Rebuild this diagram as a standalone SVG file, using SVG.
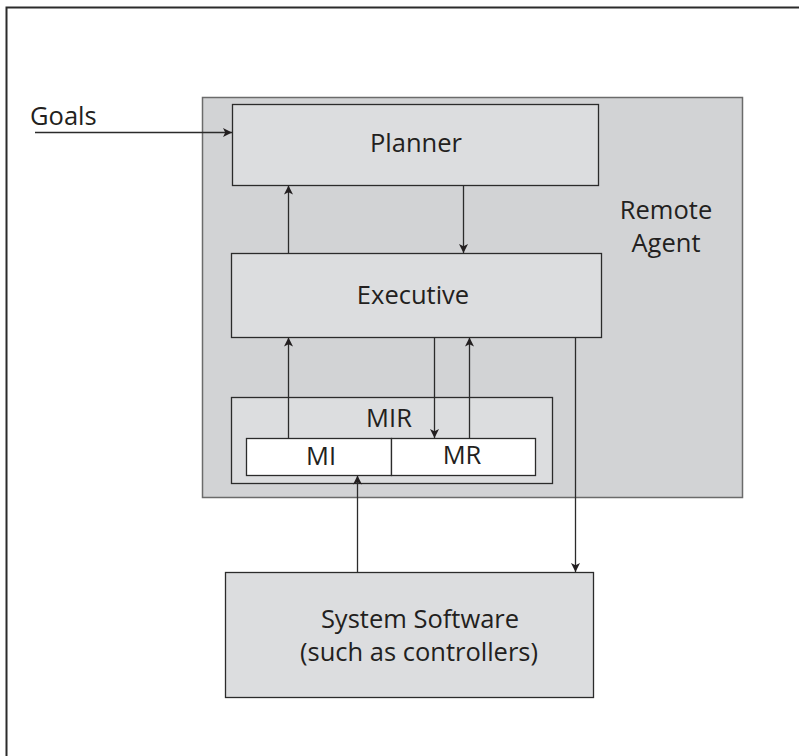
<svg xmlns="http://www.w3.org/2000/svg" width="799" height="756" viewBox="0 0 799 756">
  <style>
    text { font-family: "Open Sans", "Noto Sans", sans-serif; fill: #231f20; text-anchor: middle; }
    .big { font-size: 25.5px; }
    .box { fill: #dcdddf; stroke: #2b2b2b; stroke-width: 1.3; }
    .cell { fill: #ffffff; stroke: #2b2b2b; stroke-width: 1.3; }
    .wire { fill: none; stroke: #2b2b2b; stroke-width: 1.3; }
  </style>
  <defs>
    <marker id="arrow" viewBox="0 0 10 10" refX="10" refY="5" markerWidth="9" markerHeight="9" markerUnits="userSpaceOnUse" orient="auto">
      <path d="M0,0 L10,5 L0,10 L2.5,5 Z" fill="#231f20"/>
    </marker>
  </defs>

  <rect width="799" height="756" fill="#ffffff"/>
  <!-- page frame (left and top edges) -->
  <path d="M6.5,756 V7.5 H799" fill="none" stroke="#2b2b2b" stroke-width="2"/>

  <g id="remote-agent">
    <rect x="202.5" y="97.5" width="540" height="400" fill="#d2d3d5" stroke="#6b6b6b" stroke-width="1.5"/>
    <text class="big" x="666" y="219">Remote</text>
    <text class="big" x="666" y="252">Agent</text>
  </g>

  <g id="planner">
    <rect class="box" x="232.5" y="104.5" width="366" height="81"/>
    <text class="big" x="416" y="152">Planner</text>
  </g>

  <g id="executive">
    <rect class="box" x="231.5" y="253.5" width="370" height="84"/>
    <text class="big" x="413" y="304">Executive</text>
  </g>

  <g id="mir">
    <rect class="box" x="231.5" y="397.5" width="321" height="86"/>
    <text class="big" x="389" y="427">MIR</text>
  </g>

  <g id="mi">
    <rect class="cell" x="246.5" y="438.5" width="145" height="37"/>
    <text class="big" x="321" y="465">MI</text>
  </g>

  <g id="mr">
    <rect class="cell" x="391.5" y="438.5" width="144" height="37"/>
    <text class="big" x="462" y="464">MR</text>
  </g>

  <g id="system-software">
    <rect class="box" x="225.5" y="572.5" width="368" height="125"/>
    <text class="big" x="420" y="628">System Software</text>
    <text class="big" x="419" y="661">(such as controllers)</text>
  </g>

  <g id="goals-label">
    <text class="big" x="30" y="125" style="text-anchor:start">Goals</text>
  </g>

  <g id="connectors">
    <line class="wire" x1="35" y1="132.5" x2="232" y2="132.5" marker-end="url(#arrow)"/>
    <line class="wire" x1="288.5" y1="253" x2="288.5" y2="185.5" marker-end="url(#arrow)"/>
    <line class="wire" x1="463.5" y1="185.5" x2="463.5" y2="253" marker-end="url(#arrow)"/>
    <line class="wire" x1="288.5" y1="438" x2="288.5" y2="337.5" marker-end="url(#arrow)"/>
    <line class="wire" x1="434.5" y1="337.5" x2="434.5" y2="438" marker-end="url(#arrow)"/>
    <line class="wire" x1="469.5" y1="438" x2="469.5" y2="337.5" marker-end="url(#arrow)"/>
    <line class="wire" x1="357.5" y1="572" x2="357.5" y2="475.5" marker-end="url(#arrow)"/>
    <line class="wire" x1="575.5" y1="337.5" x2="575.5" y2="572" marker-end="url(#arrow)"/>
  </g>
</svg>
